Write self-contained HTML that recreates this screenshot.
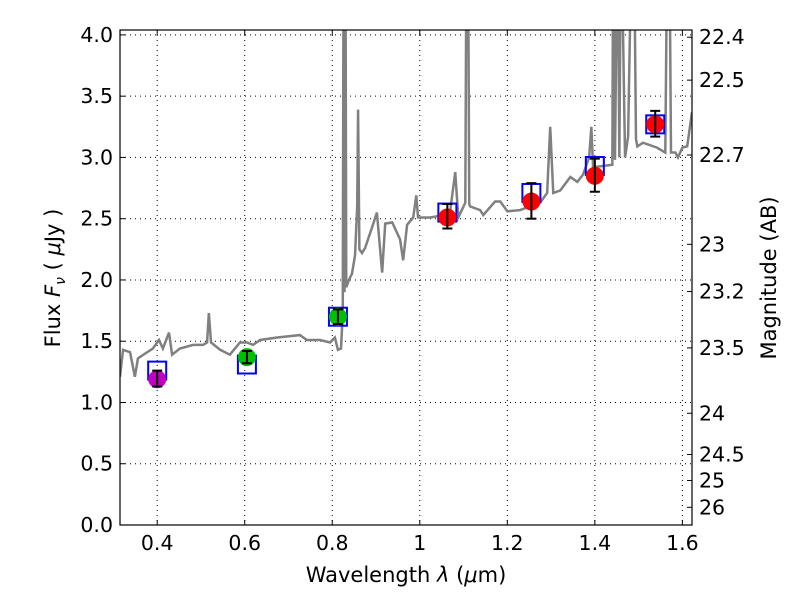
<!DOCTYPE html>
<html><head><meta charset="utf-8"><style>
body{margin:0;background:#fff;}
svg text{font-family:"DejaVu Sans","Liberation Sans",sans-serif;}
</style></head><body>
<svg id="c" width="800" height="600" xmlns="http://www.w3.org/2000/svg"></svg>
<script>
const specLam=[0.315,0.322,0.338,0.349,0.356,0.377,0.390,0.404,0.413,0.427,0.434,0.452,0.482,0.505,0.514,0.518,0.523,0.544,0.566,0.589,0.605,0.619,0.635,0.674,0.726,0.742,0.772,0.795,0.806,0.813,0.820,0.824,0.826,0.828,0.830,0.832,0.838,0.845,0.852,0.857,0.859,0.862,0.868,0.875,0.891,0.902,0.914,0.921,0.937,0.955,0.962,0.971,0.985,0.992,0.996,1.024,1.040,1.069,1.081,1.088,1.104,1.107,1.110,1.113,1.115,1.138,1.145,1.172,1.184,1.200,1.229,1.275,1.291,1.298,1.305,1.321,1.344,1.360,1.373,1.387,1.392,1.396,1.440,1.442,1.446,1.452,1.456,1.460,1.469,1.476,1.485,1.489,1.494,1.497,1.510,1.542,1.561,1.566,1.570,1.574,1.584,1.590,1.600,1.611,1.622];
const specFlux=[1.21,1.43,1.41,1.21,1.36,1.41,1.44,1.51,1.44,1.57,1.39,1.44,1.47,1.47,1.49,1.73,1.49,1.43,1.39,1.49,1.49,1.47,1.51,1.53,1.55,1.51,1.51,1.49,1.53,1.43,1.44,1.73,5,1.9,5,1.94,2.0,2.05,2.2,2.6,3.39,2.25,2.22,2.26,2.43,2.55,2.06,2.46,2.47,2.33,2.16,2.45,2.51,2.69,2.51,2.51,2.52,2.55,2.88,2.51,2.63,5,5,2.62,2.60,2.57,2.53,2.64,2.64,2.56,2.57,2.63,2.71,3.25,2.71,2.73,2.84,2.80,2.86,3.00,3.25,2.92,2.94,5,2.98,5,3.0,5,3.0,3.17,5,5,3.15,3.09,3.12,3.08,3.04,5,5,3.04,3.04,3.00,3.08,3.09,3.37];
const photLam=[0.400,0.605,0.813,1.063,1.255,1.400,1.538];
const photFlux=[1.19,1.37,1.70,2.51,2.64,2.85,3.27];
const photLo=[1.13,1.32,1.64,2.42,2.50,2.72,3.17];
const photHi=[1.26,1.42,1.76,2.62,2.79,2.99,3.38];
const modelFlux=[1.26,1.31,1.70,2.55,2.71,2.93,3.27];
const photColor=['#bf00bf','#00bf00','#00bf00','#ff0000','#ff0000','#ff0000','#ff0000'];
const xTicks=[0.4,0.6,0.8,1.0,1.2,1.4,1.6];
const xTickLabels=['0.4','0.6','0.8','1','1.2','1.4','1.6'];
const yTicks=[0,0.5,1,1.5,2,2.5,3,3.5,4];
const yTickLabels=['0.0','0.5','1.0','1.5','2.0','2.5','3.0','3.5','4.0'];
const magTicks=[22.4,22.5,22.7,23,23.2,23.5,24,24.5,25,26];
const magTickLabels=['22.4','22.5','22.7','23','23.2','23.5','24','24.5','25','26'];

const L=120,R=692,T=30,B=525,xmin=0.315,xmax=1.622,ymin=0,ymax=4.04;
const X=v=>L+(v-xmin)/(xmax-xmin)*(R-L);
const Y=v=>B-(v-ymin)/(ymax-ymin)*(B-T);
const svg=document.getElementById('c');const NS='http://www.w3.org/2000/svg';
function el(t,a,p){const e=document.createElementNS(NS,t);for(const k in a)e.setAttribute(k,a[k]);(p||svg).appendChild(e);return e;}
const defs=el('defs',{});const cp=el('clipPath',{id:'pc'},defs);el('rect',{x:L,y:T,width:R-L,height:B-T},cp);
xTicks.forEach((v,i)=>{const g=el('line',{x1:X(v),x2:X(v),y1:T,y2:B,stroke:'#000','stroke-dasharray':'1,4','stroke-width':1});


el('line',{x1:X(v),x2:X(v),y1:B,y2:B-5,stroke:'#000'});el('line',{x1:X(v),x2:X(v),y1:T,y2:T+5,stroke:'#000'});
const t=el('text',{x:X(v),y:B+25,'font-size':20.5,'text-anchor':'middle'});t.textContent=xTickLabels[i];

});
yTicks.forEach((v,i)=>{const g=el('line',{x1:L,x2:R,y1:Y(v),y2:Y(v),stroke:'#000','stroke-dasharray':'1,4','stroke-width':1});


el('line',{x1:L,x2:L+5,y1:Y(v),y2:Y(v),stroke:'#000'});
const t=el('text',{x:L-7,y:Y(v)+7,'font-size':20.5,'text-anchor':'end'});t.textContent=yTickLabels[i];

});
magTicks.forEach((m,i)=>{const f=Math.pow(10,(23.9-m)/2.5);const y=Y(f);
el('line',{x1:R,x2:R-5,y1:y,y2:y,stroke:'#000'});
const t=el('text',{x:R+7,y:y+7,'font-size':20.5});t.textContent=magTickLabels[i];

});
const g=el('g',{'clip-path':'url(#pc)'});
const sp=el('polyline',{points:specLam.map((l,i)=>X(l)+','+Y(specFlux[i])).join(' '),fill:'none',stroke:'#808080','stroke-width':2.5},g);


photLam.forEach((l,i)=>{
const b=el('rect',{x:X(l)-9,y:Y(modelFlux[i])-9,width:18,height:18,fill:'none',stroke:'#0000ff','stroke-width':2},g);


const c=el('circle',{cx:X(l),cy:Y(photFlux[i]),r:9,fill:photColor[i]},g);


const x=X(l),y1=Y(photLo[i]),y2=Y(photHi[i]);
el('line',{x1:x,x2:x,y1:y1,y2:y2,stroke:'#000','stroke-width':2},g);
el('line',{x1:x-5,x2:x+5,y1:y1,y2:y1,stroke:'#000','stroke-width':2},g);
el('line',{x1:x-5,x2:x+5,y1:y2,y2:y2,stroke:'#000','stroke-width':2},g);});
const fr=el('rect',{x:L,y:T,width:R-L,height:B-T,fill:'none',stroke:'#000','stroke-width':1.2});


</script>
<svg width="800" height="600" style="position:absolute;left:0;top:0" xmlns="http://www.w3.org/2000/svg">
<text x="406" y="582" font-size="21" text-anchor="middle" font-family="DejaVu Sans, sans-serif">Wavelength  <tspan font-style="italic">λ</tspan> (<tspan font-style="italic">μ</tspan>m)</text>
<text transform="translate(60,278) rotate(-90)" font-size="21" text-anchor="middle" font-family="DejaVu Sans, sans-serif">Flux  <tspan font-style="italic">F</tspan><tspan font-style="italic" font-size="14" dy="5">ν</tspan><tspan dy="-5">  ( </tspan><tspan font-style="italic">μ</tspan>Jy )</text>
<text transform="translate(776,278) rotate(-90)" font-size="21" text-anchor="middle" font-family="DejaVu Sans, sans-serif">Magnitude (AB)</text>
</svg>
</body></html>
